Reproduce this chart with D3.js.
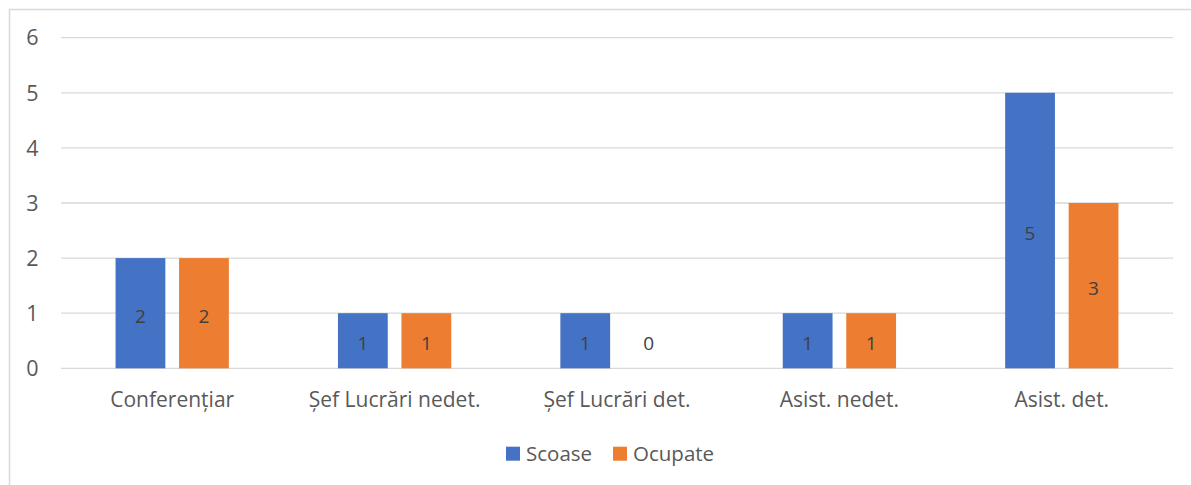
<!DOCTYPE html>
<html>
<head>
<meta charset="utf-8">
<script src="https://cdn.jsdelivr.net/npm/d3@7"></script>
<style>
    html, body { margin: 0; padding: 0; background: #fff; }
    svg text { font-family: 'Open Sans', sans-serif; fill: #595959; }
</style>
</head>
<body>
<div id="chart"></div>
<script>
//Datos
const categorias = ['Conferențiar', 'Șef Lucrări nedet.', 'Șef Lucrări det.', 'Asist. nedet.', 'Asist. det.'];
const series = ['Scoase', 'Ocupate'];
const scoase = [2, 1, 1, 1, 5];
const ocupate = [2, 1, 0, 1, 3];
const ticksY = [0, 1, 2, 3, 4, 5, 6];

const COLOR_AZUL = '#4472C4',
COLOR_NARANJA = '#ED7D31',
COLOR_GRID = '#D9D9D9';

let width = 1191, height = 485;

let svg = d3.select('#chart')
    .append('svg')
      .attr('width', width)
      .attr('height', height);

svg.append('rect')
    .attr('width', width).attr('height', height)
    .attr('fill', '#fff');

//Borde del gráfico
svg.append('rect')
    .attr('x', 9.5).attr('y', 9.5)
    .attr('width', width + 20).attr('height', height + 20)
    .attr('fill', 'none')
    .attr('stroke', COLOR_GRID)
    .attr('stroke-width', 1.5);

let plot = {left: 61, right: 1173, top: 37.7, bottom: 368.3};

//Eje X
let x0 = d3.scaleBand()
    .domain(categorias)
    .range([plot.left, plot.right])
    .paddingInner(0.4906)
    .paddingOuter(0.2453);

let x1 = d3.scaleBand()
    .domain(series)
    .range([0, x0.bandwidth()])
    .paddingInner(0.216);

//Eje Y
let y = d3.scaleLinear()
    .domain([0, 6])
    .range([plot.bottom, plot.top]);

let color = d3.scaleOrdinal()
    .domain(series)
    .range([COLOR_AZUL, COLOR_NARANJA]);

//Líneas de la rejilla
svg.append('g')
    .selectAll('line')
    .data(ticksY)
    .enter()
    .append('line')
    .attr('x1', plot.left)
    .attr('x2', plot.right)
    .attr('y1', function(d) { return y(d); })
    .attr('y2', function(d) { return y(d); })
    .attr('stroke', COLOR_GRID)
    .attr('stroke-width', 1.3);

svg.append('g')
    .selectAll('text')
    .data(ticksY)
    .enter()
    .append('text')
    .attr('x', 38.5)
    .attr('y', function(d) { return y(d); })
    .attr('dy', '0.36em')
    .attr('text-anchor', 'end')
    .style('font-size', '21.5px')
    .text(function(d) { return d; });

//Barras
let datos = categorias.map(function(c, i) {
    return {categoria: c, valores: [{serie: 'Scoase', valor: scoase[i]}, {serie: 'Ocupate', valor: ocupate[i]}]};
});

let grupos = svg.append('g')
    .selectAll('g')
    .data(datos)
    .enter()
    .append('g')
    .attr('transform', function(d) { return 'translate(' + x0(d.categoria) + ',0)'; });

grupos.selectAll('rect')
    .data(function(d) { return d.valores; })
    .enter()
    .append('rect')
    .attr('x', function(d) { return x1(d.serie); })
    .attr('y', function(d) { return y(d.valor); })
    .attr('width', x1.bandwidth())
    .attr('height', function(d) { return y(0) - y(d.valor); })
    .attr('fill', function(d) { return color(d.serie); });

//Etiquetas de datos
grupos.selectAll('.label')
    .data(function(d) { return d.valores; })
    .enter()
    .append('text')
    .attr('class', 'label')
    .attr('x', function(d) { return x1(d.serie) + x1.bandwidth() / 2; })
    .attr('y', function(d) {
        if (d.valor == 0) { return y(0) - 25; }
        return (y(0) + y(d.valor)) / 2 + 2.5;
    })
    .attr('dy', '0.36em')
    .attr('text-anchor', 'middle')
    .style('font-size', '19px')
    .style('fill', '#404040')
    .text(function(d) { return d.valor; });

//Etiquetas de categorías
svg.append('g')
    .selectAll('text')
    .data(categorias)
    .enter()
    .append('text')
    .attr('x', function(d) { return x0(d) + x0.bandwidth() / 2; })
    .attr('y', 407)
    .attr('text-anchor', 'middle')
    .style('font-size', '21px')
    .text(function(d) { return d; });

//Leyenda
let leyendaX = [506, 613];
let leyenda = svg.append('g')
    .selectAll('g')
    .data(series)
    .enter()
    .append('g')
    .attr('transform', function(d, i) { return 'translate(' + leyendaX[i] + ',446.7)'; });

leyenda.append('rect')
    .attr('width', 14)
    .attr('height', 14)
    .attr('fill', function(d) { return color(d); });

leyenda.append('text')
    .attr('x', 20)
    .attr('y', 7)
    .attr('dy', '0.36em')
    .style('font-size', '20.5px')
    .text(function(d) { return d; });
</script>
</body>
</html>
